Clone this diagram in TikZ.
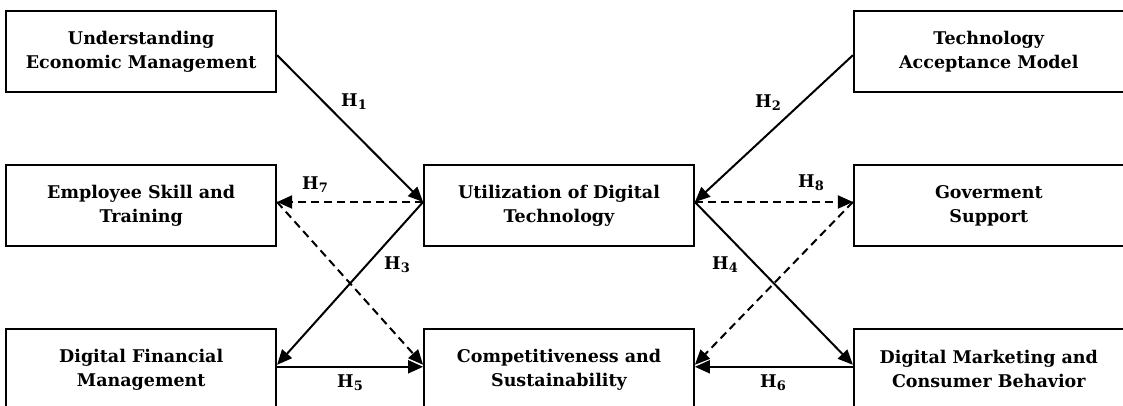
\documentclass[tikz,border=0pt]{standalone}
\usepackage{fontspec}
\setmainfont{DejaVu Serif}
\usepackage{tikz}
\usetikzlibrary{arrows.meta,positioning}

% hypothesis label: H with a lowered number
\newcommand{\hno}[1]{H\raisebox{-3pt}{\fontsize{13pt}{13pt}\selectfont#1}}

\begin{document}
\begin{tikzpicture}[
    x=1pt, y=1pt,
    font=\fontsize{17.5pt}{24pt}\selectfont\bfseries,
    box/.style={draw, line width=1.8pt, minimum width=270pt, minimum height=81pt, align=center, inner sep=2pt},
    hyp/.style={inner sep=1pt},
    arr/.style={-{Triangle[length=15pt,width=13pt]}, line width=2pt},
    dashedarr/.style={-{Triangle[length=15pt,width=13pt]}, dash pattern=on 8pt off 5pt, line width=2pt}
]
\useasboundingbox (0,0) rectangle (1123,405);

\node[box] (util) at (559,199.5) {Utilization of Digital\\Technology};
\node[box, left=146pt of util] (skill) {Employee Skill and\\Training};
\node[box, right=158pt of util] (gov) {Goverment\\Support};
\node[box, above=71pt of skill] (econ) {Understanding\\Economic Management};
\node[box, above=71pt of gov] (tam) {Technology\\Acceptance Model};
\node[box, below=81pt of skill] (dfm) {Digital Financial\\Management};
\node[box, below=81pt of util] (comp) {Competitiveness and\\Sustainability};
\node[box, below=81pt of gov] (dmcb) {Digital Marketing and\\Consumer Behavior};

% end points of the connectors, a little off the box centres
\coordinate (econ-e) at ([yshift=-3.5pt]econ.east);
\coordinate (tam-w) at ([yshift=-3.5pt]tam.west);
\coordinate (util-w) at ([yshift=3.5pt]util.west);
\coordinate (util-e) at ([yshift=3.5pt]util.east);
\coordinate (skill-e) at ([yshift=3.5pt]skill.east);
\coordinate (gov-w) at ([yshift=3.5pt]gov.west);
\coordinate (dfm-e) at ([yshift=4.5pt]dfm.east);
\coordinate (comp-w) at ([yshift=4.5pt]comp.west);
\coordinate (comp-e) at ([yshift=4.5pt]comp.east);
\coordinate (dmcb-w) at ([yshift=4.5pt]dmcb.west);

\draw[arr] (econ-e) -- (util-w);
\draw[arr] (tam-w) -- (util-e);
\draw[dashedarr] (util-w) -- (skill-e);
\draw[dashedarr] (util-e) -- (gov-w);
\draw[arr] (util-w) -- (dfm-e);
\draw[arr] (util-e) -- (dmcb-w);
\draw[dashedarr] (skill-e) -- (comp-w);
\draw[dashedarr] (gov-w) -- (comp-e);
\draw[arr] ([yshift=2.5pt]dfm.east) -- ([yshift=2.5pt]comp.west);
\draw[arr] ([yshift=2.5pt]dmcb.west) -- ([yshift=2.5pt]comp.east);

\node[hyp] (h1) at (354,303) {\hno{1}};
\node[hyp] (h2) at (768,302) {\hno{2}};
\node[hyp] (h3) at (397,140) {\hno{3}};
\node[hyp] (h4) at (725,140) {\hno{4}};
\node[hyp] (h5) at (350,22) {\hno{5}};
\node[hyp] (h6) at (773,22) {\hno{6}};
\node[hyp] (h7) at (315,220) {\hno{7}};
\node[hyp] (h8) at (811,222) {\hno{8}};
\end{tikzpicture}
\end{document}
